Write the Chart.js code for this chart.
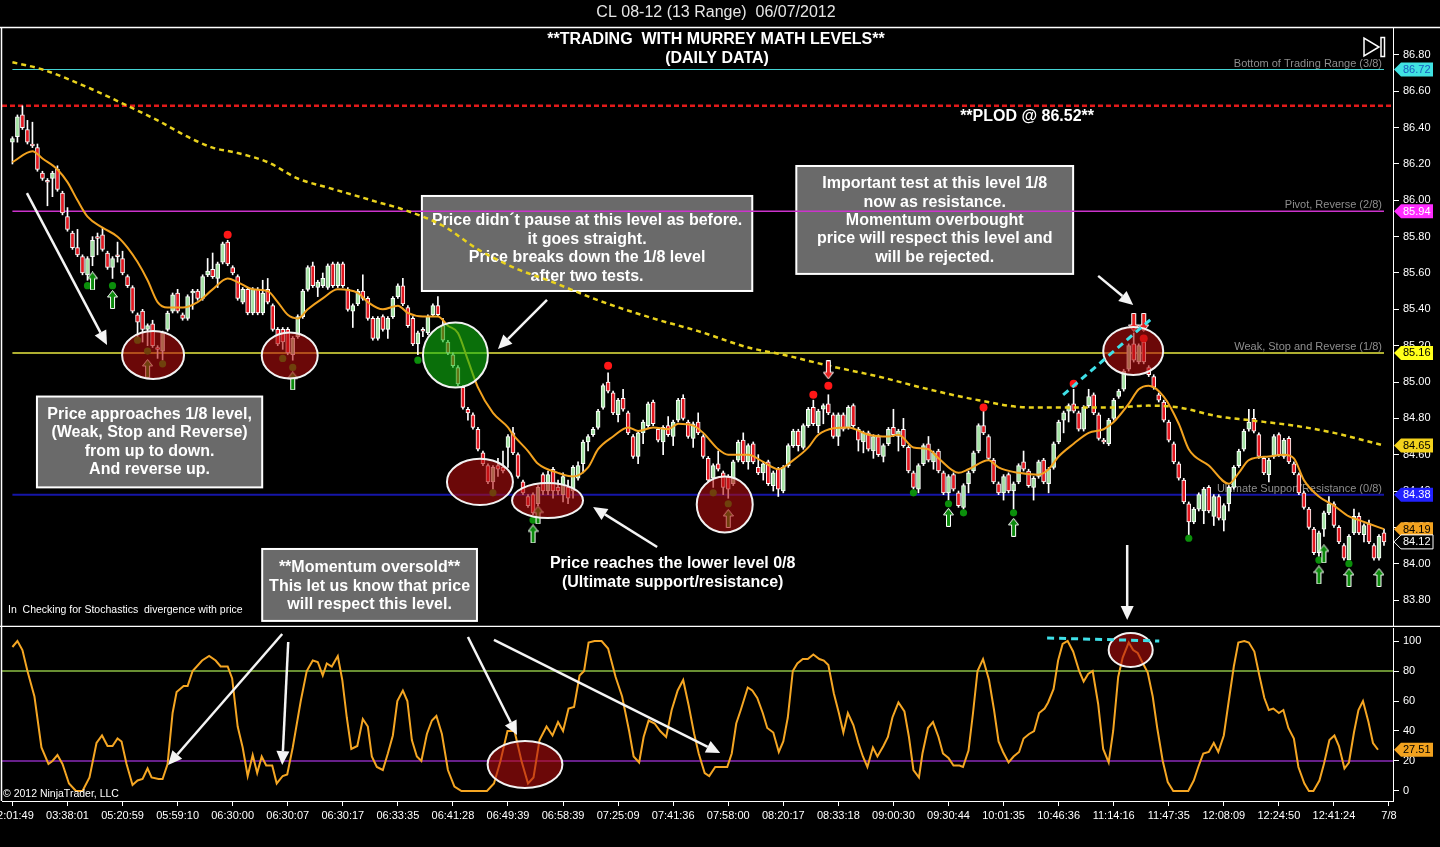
<!DOCTYPE html>
<html>
<head>
<meta charset="utf-8">
<title>CL 08-12 (13 Range) 06/07/2012</title>
<script src="https://cdn.jsdelivr.net/npm/chart.js@4.4.1/dist/chart.umd.min.js"></script>
<style>
  html, body { margin: 0; padding: 0; background: #000; overflow: hidden; }
  #priceBox { position: absolute; left: 0; top: 0; width: 1440px; height: 627px; }
  #stochBox { position: absolute; left: 0; top: 627px; width: 1440px; height: 220px; }
</style>
</head>
<body>
<div id="priceBox"><canvas id="priceChart"></canvas></div>
<div id="stochBox"><canvas id="stochChart"></canvas></div>
<script>
const FONT = 'Arial, "Liberation Sans", sans-serif';

// ---------- data (13 range bars, CL 08-12) ----------
const opens = [
  86.32,86.35,86.47,86.39,86.31,86.29,86.15,86.11,86.12,86.17,
  86.04,85.91,85.82,85.74,85.69,85.59,85.69,85.80,85.81,85.71,
  85.63,85.70,85.68,85.58,85.52,85.37,85.39,85.29,85.32,85.19,
  85.17,85.29,85.39,85.49,85.37,85.35,85.49,85.50,85.46,85.59,
  85.62,85.57,85.66,85.77,85.63,85.58,85.44,85.51,85.38,85.51,
  85.38,85.51,85.42,85.29,85.29,85.29,85.15,85.25,85.36,85.51,
  85.64,85.52,85.53,85.52,85.65,85.53,85.65,85.51,85.39,85.43,
  85.50,85.46,85.35,85.24,85.36,85.29,85.36,85.47,85.53,85.41,
  85.35,85.21,85.29,85.27,85.37,85.42,85.31,85.22,85.15,85.08,
  84.97,84.85,84.82,84.74,84.61,84.54,84.45,84.54,84.53,84.64,
  84.72,84.60,84.45,84.37,84.38,84.33,84.49,84.40,84.52,84.42,
  84.38,84.42,84.40,84.47,84.55,84.67,84.71,84.75,84.86,85.00,
  84.94,84.82,84.91,84.83,84.70,84.59,84.72,84.76,84.89,84.74,
  84.67,84.76,84.70,84.79,84.91,84.78,84.69,84.78,84.70,84.58,
  84.47,84.55,84.50,84.48,84.44,84.57,84.68,84.56,84.66,84.53,
  84.50,84.56,84.43,84.52,84.40,84.54,84.65,84.73,84.64,84.76,
  84.86,84.76,84.85,84.88,84.82,84.70,84.82,84.75,84.87,84.74,
  84.67,84.72,84.62,84.70,84.59,84.66,84.75,84.70,84.74,84.64,
  84.50,84.41,84.55,84.66,84.56,84.62,84.50,84.39,84.49,84.39,
  84.31,84.44,84.51,84.62,84.76,84.70,84.57,84.44,84.39,84.49,
  84.40,84.45,84.56,84.51,84.42,84.48,84.57,84.44,84.53,84.67,
  84.79,84.84,84.88,84.83,84.74,84.87,84.93,84.82,84.68,84.66,
  84.80,84.92,84.96,85.07,85.21,85.11,85.22,85.08,85.03,84.93,
  84.89,84.78,84.66,84.55,84.46,84.33,84.23,84.30,84.29,84.42,
  84.26,84.37,84.24,84.33,84.42,84.54,84.63,84.74,84.80,84.71,
  84.58,84.49,84.59,84.71,84.59,84.69,84.55,84.49,84.39,84.30,
  84.19,84.06,84.19,84.28,84.33,84.20,84.10,84.02,84.17,84.26,
  84.16,84.22,84.10,84.03,84.17
];
const highs = [
  86.35,86.47,86.52,86.44,86.43,86.31,86.16,86.12,86.16,86.19,
  86.05,85.96,85.83,85.84,85.70,85.69,85.80,85.82,85.85,85.72,
  85.69,85.77,85.72,85.59,85.53,85.38,85.40,85.32,85.34,85.20,
  85.28,85.39,85.49,85.51,85.38,85.48,85.51,85.51,85.59,85.68,
  85.71,85.66,85.77,85.78,85.64,85.59,85.52,85.52,85.52,85.52,
  85.56,85.57,85.43,85.30,85.30,85.30,85.25,85.37,85.51,85.64,
  85.66,85.56,85.60,85.65,85.66,85.66,85.66,85.52,85.43,85.51,
  85.59,85.47,85.36,85.36,85.37,85.36,85.47,85.54,85.57,85.42,
  85.36,85.28,85.30,85.37,85.43,85.47,85.35,85.23,85.16,85.09,
  84.98,84.86,84.83,84.75,84.62,84.55,84.54,84.58,84.62,84.71,
  84.75,84.61,84.46,84.38,84.39,84.43,84.50,84.51,84.53,84.46,
  84.50,84.46,84.54,84.56,84.68,84.71,84.75,84.85,84.99,85.05,
  84.95,84.91,84.96,84.84,84.71,84.73,84.79,84.89,84.90,84.75,
  84.76,84.81,84.79,84.91,84.93,84.79,84.78,84.83,84.71,84.59,
  84.55,84.62,84.51,84.49,84.57,84.68,84.72,84.66,84.67,84.60,
  84.56,84.57,84.51,84.53,84.54,84.66,84.74,84.74,84.77,84.86,
  84.90,84.85,84.88,84.93,84.83,84.83,84.83,84.87,84.88,84.75,
  84.73,84.73,84.71,84.71,84.66,84.75,84.85,84.74,84.80,84.65,
  84.51,84.55,84.66,84.70,84.62,84.63,84.51,84.49,84.50,84.40,
  84.44,84.51,84.62,84.77,84.84,84.71,84.58,84.45,84.49,84.50,
  84.45,84.55,84.62,84.52,84.48,84.57,84.58,84.53,84.67,84.79,
  84.84,84.88,84.96,84.84,84.87,84.96,84.94,84.83,84.69,84.80,
  84.91,84.96,85.07,85.21,85.27,85.21,85.23,85.09,85.04,84.94,
  84.90,84.79,84.67,84.56,84.47,84.34,84.31,84.39,84.42,84.43,
  84.38,84.38,84.33,84.43,84.54,84.63,84.74,84.85,84.85,84.72,
  84.59,84.58,84.71,84.72,84.69,84.70,84.56,84.50,84.40,84.31,
  84.20,84.18,84.29,84.37,84.34,84.21,84.11,84.16,84.30,84.28,
  84.22,84.24,84.11,84.16,84.19
];
const lows = [
  86.20,86.32,86.39,86.31,86.29,86.16,86.11,85.97,86.02,86.05,
  85.92,85.83,85.73,85.69,85.59,85.56,85.64,85.70,85.72,85.62,
  85.57,85.66,85.59,85.52,85.38,85.24,85.22,85.20,85.19,85.13,
  85.12,85.28,85.38,85.38,85.34,85.34,85.40,85.45,85.45,85.58,
  85.57,85.52,85.65,85.64,85.59,85.45,85.43,85.37,85.37,85.37,
  85.37,85.43,85.28,85.20,85.18,85.15,85.12,85.24,85.35,85.50,
  85.52,85.47,85.52,85.51,85.52,85.52,85.52,85.39,85.30,85.42,
  85.45,85.34,85.23,85.23,85.28,85.24,85.35,85.46,85.42,85.30,
  85.20,85.15,85.25,85.26,85.36,85.36,85.22,85.15,85.08,84.98,
  84.85,84.79,84.74,84.62,84.54,84.44,84.41,84.48,84.50,84.53,
  84.60,84.47,84.38,84.31,84.27,84.32,84.38,84.38,84.36,84.38,
  84.34,84.33,84.36,84.46,84.50,84.62,84.70,84.74,84.85,84.94,
  84.82,84.78,84.84,84.71,84.58,84.55,84.66,84.75,84.76,84.67,
  84.60,84.70,84.65,84.78,84.79,84.69,84.64,84.71,84.58,84.45,
  84.42,84.51,84.38,84.36,84.43,84.56,84.55,84.52,84.55,84.49,
  84.46,84.43,84.40,84.37,84.39,84.53,84.64,84.62,84.63,84.75,
  84.76,84.72,84.77,84.82,84.69,84.65,84.73,84.74,84.75,84.62,
  84.61,84.62,84.58,84.59,84.56,84.65,84.70,84.62,84.64,84.50,
  84.41,84.39,84.54,84.56,84.52,84.50,84.38,84.35,84.40,84.31,
  84.30,84.39,84.50,84.61,84.71,84.57,84.44,84.38,84.35,84.39,
  84.30,84.44,84.51,84.42,84.35,84.47,84.44,84.39,84.52,84.66,
  84.72,84.78,84.83,84.73,84.73,84.86,84.82,84.68,84.66,84.65,
  84.79,84.91,84.95,85.06,85.11,85.10,85.10,85.03,84.96,84.89,
  84.78,84.67,84.55,84.46,84.33,84.16,84.22,84.29,84.22,84.28,
  84.21,84.24,84.18,84.29,84.41,84.53,84.62,84.73,84.72,84.58,
  84.49,84.45,84.58,84.59,84.58,84.55,84.49,84.38,84.30,84.19,
  84.05,84.04,84.15,84.27,84.20,84.11,84.02,84.01,84.16,84.16,
  84.12,84.11,84.02,84.02,84.10
];
const closes = [
  86.34,86.46,86.40,86.32,86.30,86.17,86.12,86.10,86.15,86.06,
  85.93,85.84,85.74,85.70,85.60,85.68,85.78,85.79,85.73,85.63,
  85.68,85.69,85.60,85.53,85.39,85.33,85.29,85.31,85.20,85.18,
  85.27,85.38,85.48,85.39,85.35,85.47,85.50,85.46,85.58,85.61,
  85.58,85.65,85.76,85.65,85.60,85.46,85.51,85.38,85.51,85.38,
  85.49,85.44,85.29,85.21,85.22,85.16,85.24,85.36,85.50,85.63,
  85.53,85.55,85.57,85.64,85.53,85.65,85.53,85.40,85.42,85.50,
  85.46,85.35,85.24,85.35,85.29,85.35,85.46,85.53,85.43,85.31,
  85.21,85.27,85.28,85.36,85.42,85.37,85.23,85.16,85.09,84.99,
  84.86,84.83,84.75,84.63,84.55,84.45,84.53,84.52,84.51,84.70,
  84.61,84.48,84.39,84.32,84.28,84.42,84.40,84.49,84.40,84.40,
  84.48,84.36,84.53,84.54,84.67,84.70,84.74,84.84,84.98,84.95,
  84.83,84.90,84.85,84.72,84.59,84.72,84.78,84.88,84.77,84.68,
  84.75,84.71,84.78,84.90,84.80,84.70,84.77,84.72,84.59,84.46,
  84.54,84.52,84.42,84.41,84.56,84.67,84.56,84.65,84.56,84.50,
  84.55,84.44,84.50,84.41,84.53,84.65,84.73,84.65,84.76,84.85,
  84.77,84.84,84.87,84.83,84.70,84.82,84.74,84.86,84.76,84.68,
  84.72,84.63,84.70,84.60,84.65,84.74,84.71,84.73,84.65,84.51,
  84.42,84.54,84.65,84.57,84.61,84.51,84.39,84.48,84.41,84.32,
  84.43,84.50,84.61,84.76,84.72,84.58,84.45,84.39,84.48,84.40,
  84.44,84.54,84.52,84.43,84.47,84.56,84.45,84.52,84.66,84.78,
  84.83,84.87,84.84,84.74,84.86,84.92,84.83,84.69,84.67,84.79,
  84.90,84.95,85.06,85.20,85.12,85.20,85.11,85.04,84.97,84.90,
  84.79,84.68,84.56,84.47,84.34,84.23,84.30,84.38,84.41,84.29,
  84.37,84.25,84.32,84.42,84.53,84.62,84.73,84.78,84.73,84.59,
  84.50,84.57,84.70,84.60,84.68,84.56,84.50,84.39,84.31,84.20,
  84.06,84.17,84.28,84.33,84.21,84.12,84.03,84.15,84.26,84.17,
  84.21,84.12,84.03,84.15,84.12
];

// [bar, value] readings of the indicator lines
const emaPoints = [
  [0,86.21],[4,86.27],[6,86.23],[9,86.17],[11,86.10],[13,86.00],[15,85.91],[18,85.85],[21,85.80],[23,85.74],
  [25,85.66],[27,85.56],[29,85.44],[31,85.41],[34,85.41],[37,85.44],[40,85.51],[43,85.57],[45,85.55],[48,85.51],
  [51,85.50],[53,85.44],[55,85.37],[57,85.35],[59,85.40],[62,85.46],[65,85.51],[69,85.49],[71,85.44],[74,85.40],
  [77,85.42],[79,85.38],[82,85.36],[85,85.36],[87,85.31],[89,85.27],[91,85.12],[93,84.97],[96,84.83],[99,84.75],
  [100,84.71],[103,84.62],[105,84.55],[109,84.50],[112,84.48],[115,84.53],[117,84.63],[120,84.70],[123,84.75],[125,84.73],
  [128,84.75],[131,84.74],[133,84.77],[136,84.76],[138,84.72],[141,84.63],[143,84.60],[147,84.60],[150,84.56],[153,84.52],
  [156,84.57],[159,84.64],[161,84.71],[167,84.75],[171,84.71],[175,84.70],[177,84.71],[180,84.64],[183,84.63],[185,84.58],
  [189,84.50],[191,84.52],[195,84.57],[197,84.53],[201,84.50],[205,84.49],[207,84.52],[209,84.59],[212,84.66],[215,84.72],
  [218,84.74],[220,84.78],[223,84.88],[225,84.96],[227,84.98],[230,84.92],[233,84.77],[235,84.63],[239,84.54],[243,84.44],
  [245,84.50],[247,84.57],[251,84.59],[254,84.60],[256,84.58],[258,84.46],[261,84.37],[264,84.32],[267,84.26],[269,84.24],
  [273,84.20],[274,84.19]
];
const smaPoints = [
  [0,86.76],[6,86.72],[16,86.61],[23,86.52],[29,86.44],[35,86.35],[40,86.29],[45,86.26],[51,86.21],[57,86.12],
  [63,86.07],[68,86.03],[73,85.99],[78,85.95],[86,85.86],[93,85.73],[101,85.62],[107,85.56],[117,85.45],[128,85.35],
  [137,85.28],[147,85.19],[154,85.15],[163,85.09],[173,85.03],[183,84.96],[193,84.90],[203,84.86],[210,84.86],[220,84.86],
  [227,84.87],[233,84.86],[241,84.81],[247,84.79],[256,84.76],[264,84.72],[274,84.65]
];
const stochPoints = [
  [0,96],[1,100],[2,94],[3,80],[4.4,63],[5.8,29],[7.2,18],[8,20],[9,24],[10,18],
  [11.3,5],[12.7,0],[14,0],[15.4,9],[16.8,32],[17.9,37],[19,30],[20,30],[21,35],[21.8,33],
  [22.8,18],[24,4],[25,7],[26,8],[27,15],[27.8,9],[29.2,8],[30,8],[31,18],[32,52],
  [32.8,66],[34.2,70],[35,70],[36,80],[37.9,87],[39.3,90],[40.6,87],[41.6,83],[43,83],[43.9,75],
  [45,43],[46,29],[47,10],[48,24],[48.9,12],[49.8,23],[50.7,17],[51.9,17],[52.8,5],[54,10],
  [54.9,11],[56,29],[57.6,60],[58.8,80],[60,87],[61,86],[62,77],[62.8,85],[63.8,83],[65,90],
  [65.9,74],[66.8,49],[67.7,28],[68.9,30],[70,48],[71,43],[71.8,23],[72.8,16],[74,14],[75,25],
  [76,37],[76.9,60],[78,67],[78.9,60],[79.8,34],[80.8,23],[81.7,20],[82.8,38],[83.8,47],[84.7,50],
  [85.8,38],[87,14],[88.3,3],[89.7,0],[94.8,0],[96.2,5],[97.5,20],[98.9,40],[100.3,40],[101.7,20],
  [103,5],[104.1,9],[105.3,34],[106.7,43],[107.9,37],[109,46],[110,40],[111.1,55],[112.2,56],[113.3,77],
  [114.2,80],[115.1,99],[116.3,100],[117.7,100],[119,95],[120.5,76],[121.8,63],[123.2,40],[124.1,23],[125.2,19],
  [126.1,36],[127.1,47],[128.3,45],[129.4,40],[130.6,36],[131.7,54],[132.9,67],[134,74],[135.1,57],[136.2,38],
  [137.1,25],[138.3,12],[139.2,10],[140.4,16],[141.4,16],[142.8,16],[143.7,25],[144.6,45],[145.5,54],[146.9,69],
  [147.8,67],[148.8,62],[149.9,52],[150.8,42],[152,39],[153.1,26],[154,33],[154.9,49],[155.9,80],[156.8,85],
  [157.9,88],[158.9,88],[160,91],[161.2,88],[162.1,87],[163,84],[164.1,65],[165.1,52],[166,39],[166.9,52],
  [168,44],[169,32],[169.9,23],[170.8,16],[171.9,29],[172.8,23],[174,30],[174.9,36],[175.8,49],[177,59],
  [178.2,53],[179.1,36],[180,14],[181.1,9],[181.8,25],[182.9,42],[183.9,46],[185,36],[185.9,25],[187,22],
  [188,17],[189.2,17],[189.9,16],[191,27],[191.9,52],[192.8,80],[193.9,88],[195.1,74],[196.1,54],[197,33],
  [197.9,26],[199,19],[200,23],[201.1,26],[202,35],[203.1,38],[204.1,40],[205.1,52],[206.2,55],[206.9,59],
  [208,68],[208.9,87],[209.8,98],[210.8,100],[211.9,93],[213.1,80],[214,73],[214.9,78],[215.8,80],[216.9,58],
  [217.9,28],[219,19],[219.9,40],[220.9,76],[221.8,89],[223,99],[223.9,94],[224.8,92],[225.7,86],[226.8,79],
  [227.8,63],[228.7,42],[229.8,20],[230.8,6],[231.9,0],[234.9,0],[236,7],[236.9,16],[237.9,25],[239,26],
  [240,32],[240.9,26],[242,37],[242.9,58],[244,83],[244.9,99],[246.1,100],[247,99],[248.1,93],[249.1,77],
  [250.1,62],[251,54],[251.9,55],[253,52],[253.9,54],[254.9,42],[256,35],[256.9,16],[258.1,5],[259,0],
  [259.9,0],[261.1,7],[262,18],[263.1,34],[264.1,37],[265,30],[266.1,15],[267,19],[268,39],[268.9,54],
  [269.8,60],[270.9,46],[271.8,32],[272.8,27.51]
];

// signal markers
const greenDotBars   = [15,20,25,27,30,54,56,81,96,104,140,143,180,187,190,200,235,261,267];
const greenDotPrices = [85.53,85.53,85.23,85.17,85.10,85.13,85.08,85.12,84.39,84.24,84.39,84.33,84.39,84.33,84.28,84.28,84.14,84.02,84.00];
const redDotBars     = [43,119,160,163,194,212,226];
const redDotPrices   = [85.81,85.09,84.93,84.98,84.86,84.99,85.24];
const upArrowBars    = [16,20,27,56,104,105,143,187,200,261,262,267,273];
const upArrowPrices  = [85.556,85.454,85.075,85.006,84.164,84.268,84.249,84.255,84.20,83.938,84.054,83.924,83.924];
const downArrowBars  = [163,224,226];
const downArrowPrices= [85.067,85.328,85.328];

// Murrey math levels
const levelValues = [86.72, 85.94, 85.16, 84.38];
const levelNames  = ['Bottom of Trading Range (3/8)', 'Pivot, Reverse (2/8)', 'Weak, Stop and Reverse (1/8)', 'Ultimate Support/Resistance (0/8)'];
const plodValue = 86.52;
const stochLevels = [80, 20];

// axes
const yTicks = [83.8, 84.0, 84.2, 84.4, 84.6, 84.8, 85.0, 85.2, 85.4, 85.6, 85.8, 86.0, 86.2, 86.4, 86.6, 86.8];
const stochTicks = [0, 20, 40, 60, 80, 100];
const xTickBars = [0,11,22,33,44,55,66,77,88,99,110,121,132,143,154,165,176,187,198,209,220,231,242,253,264,275];
const xLabels = ['02:01:49','03:38:01','05:20:59','05:59:10','06:30:00','06:30:07','06:30:17','06:33:35','06:41:28',
  '06:49:39','06:58:39','07:25:09','07:41:36','07:58:00','08:20:17','08:33:18','09:00:30','09:30:44','10:01:35',
  '10:46:36','11:14:16','11:47:35','12:08:09','12:24:50','12:41:24','7/8'];

// ---------- styles ----------
const UP = '#a4e3a4', DOWN = '#e3161f';
const EMA_COLOR = '#f2a21f', SMA_COLOR = '#e9d21d';
const levelStyles = [
  { color: '#45d3d3', width: 1.2, tagBg: '#40e2e2', tagFg: '#1a5fc0' },
  { color: '#cc33cc', width: 1.4, tagBg: '#ff2cff', tagFg: '#ffffff' },
  { color: '#e8e840', width: 1.4, tagBg: '#ffff1a', tagFg: '#000000' },
  { color: '#1515a8', width: 2, tagBg: '#2222ff', tagFg: '#ffffff' }
];
const stochLevelColors = ['#8cbf45', '#8a2bb8'];
const RED_ELL = 'rgba(178,14,14,0.6)', GREEN_ELL = 'rgba(16,185,16,0.6)';

// annotation layout, in data units (bar index, price / stoch value)
const noteBoxes = [
  { x0: 4.9, x1: 49.9, y0: 84.92, y1: 84.42, first: 18, gap: 18.4,
    lines: ['Price approaches 1/8 level,', '(Weak, Stop and Reverse)', 'from up to down.', 'And reverse up.'] },
  { x0: 49.9, x1: 92.8, y0: 84.081, y1: 83.685, first: 19, gap: 18.5,
    lines: ['**Momentum oversold**', 'This let us know that price', 'will respect this level.'] },
  { x0: 81.8, x1: 147.8, y0: 86.024, y1: 85.501, first: 25, gap: 18.4,
    lines: ['Price didn\u00b4t pause at this level as before.', 'it goes straight.', 'Price breaks down the 1/8 level', 'after two tests.'] },
  { x0: 156.6, x1: 211.9, y0: 86.189, y1: 85.595, first: 18, gap: 18.3,
    lines: ['Important test at this level 1/8', 'now as resistance.', 'Momentum overbought', 'price will respect this level and', 'will be rejected.'] }
];
const priceEllipses = [
  { b: 28.1, p: 85.149, rb: 6.19, rp: 0.132, fill: RED_ELL },
  { b: 55.4, p: 85.146, rb: 5.59, rp: 0.127, fill: RED_ELL },
  { b: 88.5, p: 85.149, rb: 6.49, rp: 0.179, fill: GREEN_ELL },
  { b: 93.4, p: 84.450, rb: 6.59, rp: 0.127, fill: RED_ELL },
  { b: 106.9, p: 84.348, rb: 7.09, rp: 0.096, fill: RED_ELL },
  { b: 142.3, p: 84.326, rb: 5.59, rp: 0.154, fill: RED_ELL },
  { b: 223.9, p: 85.171, rb: 5.99, rp: 0.132, fill: RED_ELL }
];
const stochEllipses = [
  { b: 102.4, p: 17.7, rb: 7.47, rp: 15.7, fill: RED_ELL },
  { b: 223.4, p: 94, rb: 4.40, rp: 11.3, fill: RED_ELL }
];
const priceArrows = [
  [2.9, 86.040, 18.9, 85.204], [106.8, 85.452, 97.0, 85.182], [128.8, 84.092, 116.0, 84.312],
  [216.9, 85.584, 223.9, 85.424], [222.7, 84.103, 222.7, 83.690]
];
const stochArrows = [
  [53.9, 104.7, 31.1, 17.3], [55.1, 99.3, 53.9, 17.3], [91.0, 102.7, 100.8, 37.3], [96.2, 100.7, 141.4, 25.3]
];
const priceCyan = [209.9, 84.929, 227.5, 85.347];
const stochCyan = [206.7, 102, 229.1, 100];
const priceTexts = [
  { b: 202.7, p: 86.459, text: '**PLOD @ ' + plodValue.toFixed(2) + '**' },
  { b: 131.9, p: 83.999, text: 'Price reaches the lower level 0/8' },
  { b: 131.9, p: 83.894, text: '(Ultimate support/resistance)' }
];

// ---------- helpers ----------
function arrowImage(fill, down) {
  const c = document.createElement('canvas');
  c.width = 11; c.height = 19;
  const g = c.getContext('2d');
  const pts = [[5.5,0.5],[10.5,7],[7.5,7],[7.5,18.5],[3.5,18.5],[3.5,7],[0.5,7]];
  g.beginPath();
  pts.forEach(([px, py], i) => {
    const yy = down ? 19 - py : py;
    if (i) g.lineTo(px, yy); else g.moveTo(px, yy);
  });
  g.closePath();
  g.fillStyle = fill; g.fill();
  g.strokeStyle = '#ffffff'; g.lineWidth = 1; g.stroke();
  return c;
}
function arrowLine(ctx, x1, y1, x2, y2) {
  const a = Math.atan2(y2 - y1, x2 - x1), head = 14, half = 6.5;
  const hx = x2 - Math.cos(a) * head, hy = y2 - Math.sin(a) * head;
  ctx.save();
  ctx.strokeStyle = '#f4f4f4'; ctx.fillStyle = '#f4f4f4'; ctx.lineWidth = 2.5;
  ctx.beginPath(); ctx.moveTo(x1, y1); ctx.lineTo(hx, hy); ctx.stroke();
  ctx.beginPath(); ctx.moveTo(x2, y2);
  ctx.lineTo(hx + Math.sin(a) * half, hy - Math.cos(a) * half);
  ctx.lineTo(hx - Math.sin(a) * half, hy + Math.cos(a) * half);
  ctx.closePath(); ctx.fill();
  ctx.restore();
}
function ellipse(ctx, x, y, e) {
  const cx = x.getPixelForValue(e.b), cy = y.getPixelForValue(e.p);
  const rx = Math.abs(x.getPixelForValue(e.b + e.rb) - cx);
  const ry = Math.abs(y.getPixelForValue(e.p + e.rp) - cy);
  ctx.beginPath(); ctx.ellipse(cx, cy, rx, ry, 0, 0, Math.PI * 2);
  ctx.fillStyle = e.fill; ctx.fill();
  ctx.lineWidth = 2; ctx.strokeStyle = '#f2f2f2'; ctx.stroke();
}
function cyanDash(ctx, x, y, s) {
  ctx.save();
  ctx.strokeStyle = '#3fe0e8'; ctx.lineWidth = 3; ctx.setLineDash([7, 5]);
  ctx.beginPath();
  ctx.moveTo(x.getPixelForValue(s[0]), y.getPixelForValue(s[1]));
  ctx.lineTo(x.getPixelForValue(s[2]), y.getPixelForValue(s[3]));
  ctx.stroke(); ctx.restore();
}
function tag(ctx, x, y, text, bg, fg, outline) {
  ctx.save();
  ctx.beginPath();
  ctx.moveTo(x, y); ctx.lineTo(x + 7, y - 7); ctx.lineTo(x + 39, y - 7);
  ctx.lineTo(x + 39, y + 7); ctx.lineTo(x + 7, y + 7); ctx.closePath();
  ctx.fillStyle = bg; ctx.fill();
  if (outline) { ctx.strokeStyle = outline; ctx.lineWidth = 1; ctx.stroke(); }
  ctx.fillStyle = fg; ctx.font = '11px ' + FONT;
  ctx.textAlign = 'left'; ctx.textBaseline = 'middle';
  ctx.fillText(text, x + 9, y + 0.5);
  ctx.restore();
}
// keep the plot areas of both panels exactly where the picture has them
function fixWidth(s) { s.width = 47; s.paddingTop = 0; s.paddingBottom = 0; }
function fixHeight(s) { s.height = 46; s.paddingLeft = 0; s.paddingRight = 0; }

// ---------- price panel overlay ----------
const priceOverlay = {
  id: 'priceOverlay',
  beforeDatasetsDraw(chart) {
    const { ctx, chartArea: a, scales: { x, y } } = chart;
    ctx.save();
    // note boxes (lines and candles run over them)
    noteBoxes.forEach(bx => {
      const l = x.getPixelForValue(bx.x0), r = x.getPixelForValue(bx.x1);
      const t = y.getPixelForValue(bx.y0), b = y.getPixelForValue(bx.y1);
      ctx.fillStyle = '#6a6a6a'; ctx.fillRect(l, t, r - l, b - t);
      ctx.strokeStyle = '#ffffff'; ctx.lineWidth = 2; ctx.strokeRect(l, t, r - l, b - t);
      ctx.fillStyle = '#ffffff'; ctx.font = 'bold 16px ' + FONT;
      ctx.textAlign = 'center'; ctx.textBaseline = 'middle';
      bx.lines.forEach((s, i) => ctx.fillText(s, (l + r) / 2, t + bx.first + i * bx.gap));
    });
    // Murrey levels
    const lx0 = x.getPixelForValue(0), lx1 = x.getPixelForValue(opens.length - 1);
    levelValues.forEach((v, i) => {
      const st = levelStyles[i], py = y.getPixelForValue(v);
      ctx.strokeStyle = st.color; ctx.lineWidth = st.width;
      ctx.beginPath(); ctx.moveTo(lx0, py); ctx.lineTo(lx1, py); ctx.stroke();
      ctx.fillStyle = '#8e8e8e'; ctx.font = '11px ' + FONT;
      ctx.textAlign = 'right'; ctx.textBaseline = 'alphabetic';
      ctx.fillText(levelNames[i], lx1 - 2, py - 3);
    });
    // PLOD
    const pp = y.getPixelForValue(plodValue);
    ctx.strokeStyle = '#e21a1a'; ctx.lineWidth = 2.5; ctx.setLineDash([5, 3]);
    ctx.beginPath(); ctx.moveTo(a.left, pp); ctx.lineTo(a.right, pp); ctx.stroke();
    ctx.setLineDash([]);
    ctx.restore();
  },
  afterDraw(chart) {
    const { ctx, chartArea: a, scales: { x, y } } = chart;
    ctx.save();
    priceEllipses.forEach(e => ellipse(ctx, x, y, e));
    cyanDash(ctx, x, y, priceCyan);
    priceArrows.forEach(s => arrowLine(ctx, x.getPixelForValue(s[0]), y.getPixelForValue(s[1]),
      x.getPixelForValue(s[2]), y.getPixelForValue(s[3])));
    // texts
    ctx.fillStyle = '#ffffff'; ctx.textAlign = 'center'; ctx.textBaseline = 'middle';
    ctx.font = 'bold 16px ' + FONT;
    priceTexts.forEach(t => ctx.fillText(t.text, x.getPixelForValue(t.b), y.getPixelForValue(t.p)));
    ctx.fillText('**TRADING  WITH MURREY MATH LEVELS**', 716, 40);
    ctx.fillText('(DAILY DATA)', 717, 59);
    ctx.font = '16px ' + FONT; ctx.fillStyle = '#e6e6e6';
    ctx.fillText('CL 08-12 (13 Range)  06/07/2012', 716, 13);
    ctx.font = '10.5px ' + FONT; ctx.fillStyle = '#ffffff'; ctx.textAlign = 'left';
    ctx.fillText('In  Checking for Stochastics  divergence with price', a.left + 6, a.bottom - 16);
    // frame
    ctx.strokeStyle = '#ffffff'; ctx.lineWidth = 1.5;
    ctx.beginPath();
    ctx.moveTo(0, a.top + 0.5); ctx.lineTo(chart.width, a.top + 0.5);
    ctx.moveTo(0, a.bottom + 0.5); ctx.lineTo(chart.width, a.bottom + 0.5);
    ctx.moveTo(1.5, a.top); ctx.lineTo(1.5, a.bottom);
    ctx.stroke();
    // "go to end" icon
    ctx.lineWidth = 1.5;
    ctx.beginPath();
    ctx.moveTo(a.right - 29, 38); ctx.lineTo(a.right - 29, 56); ctx.lineTo(a.right - 14, 47); ctx.closePath();
    ctx.stroke();
    ctx.strokeRect(a.right - 12, 37.5, 3.5, 19);
    // right axis tags
    const tx = a.right + 1;
    levelValues.forEach((v, i) => tag(ctx, tx, y.getPixelForValue(v), v.toFixed(2), levelStyles[i].tagBg, levelStyles[i].tagFg));
    const smaLast = smaPoints[smaPoints.length - 1][1], emaLast = emaPoints[emaPoints.length - 1][1];
    const lastClose = closes[closes.length - 1];
    tag(ctx, tx, y.getPixelForValue(smaLast), smaLast.toFixed(2), '#f3d21c', '#000000');
    tag(ctx, tx, y.getPixelForValue(emaLast), emaLast.toFixed(2), EMA_COLOR, '#000000');
    tag(ctx, tx, y.getPixelForValue(lastClose), lastClose.toFixed(2), '#000000', '#ffffff', '#ffffff');
    ctx.restore();
  }
};

// ---------- stochastics panel overlay ----------
const stochOverlay = {
  id: 'stochOverlay',
  beforeDatasetsDraw(chart) {
    const { ctx, chartArea: a, scales: { y } } = chart;
    ctx.save();
    stochLevels.forEach((v, i) => {
      const py = y.getPixelForValue(v);
      ctx.strokeStyle = stochLevelColors[i]; ctx.lineWidth = i ? 1.6 : 1.3;
      ctx.beginPath(); ctx.moveTo(a.left, py); ctx.lineTo(a.right, py); ctx.stroke();
    });
    ctx.restore();
  },
  afterDraw(chart) {
    const { ctx, chartArea: a, scales: { x, y } } = chart;
    ctx.save();
    stochEllipses.forEach(e => ellipse(ctx, x, y, e));
    cyanDash(ctx, x, y, stochCyan);
    stochArrows.forEach(s => arrowLine(ctx, x.getPixelForValue(s[0]), y.getPixelForValue(s[1]),
      x.getPixelForValue(s[2]), y.getPixelForValue(s[3])));
    ctx.fillStyle = '#ffffff'; ctx.font = '10.5px ' + FONT;
    ctx.textAlign = 'left'; ctx.textBaseline = 'middle';
    ctx.fillText('\u00a9 2012 NinjaTrader, LLC', 3, a.bottom - 7);
    ctx.strokeStyle = '#ffffff'; ctx.lineWidth = 1.5;
    ctx.beginPath(); ctx.moveTo(1.5, 0); ctx.lineTo(1.5, a.bottom); ctx.stroke();
    const last = stochPoints[stochPoints.length - 1][1];
    tag(ctx, a.right + 1, y.getPixelForValue(last), last.toFixed(2), EMA_COLOR, '#000000');
    ctx.restore();
  }
};

// ---------- charts ----------
const idx = opens.map((_, i) => i);
const upImg = arrowImage('#0c8a0c', false);
const downImg = arrowImage('#e82020', true);
const X_MIN = -2.08, X_MAX = 275.8;

new Chart(document.getElementById('priceChart'), {
  type: 'bar',
  data: {
    datasets: [
      { type: 'line', order: 0, showLine: false, pointStyle: downImg, pointRadius: 5,
        data: downArrowBars.map((b, i) => ({ x: b, y: downArrowPrices[i] })) },
      { type: 'line', order: 0, showLine: false, pointStyle: upImg, pointRadius: 5,
        data: upArrowBars.map((b, i) => ({ x: b, y: upArrowPrices[i] })) },
      { type: 'line', order: 1, showLine: false, pointRadius: 3.6, pointBorderWidth: 0,
        pointBackgroundColor: '#0b8f0b', data: greenDotBars.map((b, i) => ({ x: b, y: greenDotPrices[i] })) },
      { type: 'line', order: 1, showLine: false, pointRadius: 4, pointBorderWidth: 0,
        pointBackgroundColor: '#ff1717', data: redDotBars.map((b, i) => ({ x: b, y: redDotPrices[i] })) },
      { type: 'line', order: 2, borderColor: EMA_COLOR, borderWidth: 2, pointRadius: 0,
        cubicInterpolationMode: 'monotone', data: emaPoints.map(p => ({ x: p[0], y: p[1] })) },
      { type: 'line', order: 3, borderColor: SMA_COLOR, borderWidth: 2.5, borderDash: [5, 4], pointRadius: 0,
        cubicInterpolationMode: 'monotone', data: smaPoints.map(p => ({ x: p[0], y: p[1] })) },
      { order: 4, grouped: false, barThickness: 4, borderWidth: 1, borderColor: '#ffffff', borderSkipped: false,
        backgroundColor: idx.map(i => closes[i] >= opens[i] ? UP : DOWN),
        data: idx.map(i => ({ x: i, y: [opens[i], closes[i]] })) },
      { order: 5, grouped: false, barThickness: 1, backgroundColor: '#ffffff',
        data: idx.map(i => ({ x: i, y: [lows[i], highs[i]] })) }
    ]
  },
  options: {
    responsive: true, maintainAspectRatio: false, animation: false, devicePixelRatio: 1,
    layout: { padding: { top: 27, left: 2, right: 0, bottom: 1 }, autoPadding: false },
    plugins: { legend: { display: false }, tooltip: { enabled: false } },
    scales: {
      x: { type: 'linear', min: X_MIN, max: X_MAX, offset: false, display: false, grid: { offset: false } },
      y: {
        position: 'right', min: 83.657, max: 86.954,
        afterFit: fixWidth,
        afterBuildTicks(s) { s.ticks = yTicks.map(v => ({ value: v })); },
        ticks: { color: '#ffffff', font: { family: FONT, size: 11 }, padding: 4, callback: v => v.toFixed(2) },
        grid: { drawOnChartArea: false, color: '#ffffff', tickLength: 6 },
        border: { color: '#ffffff' }
      }
    }
  },
  plugins: [priceOverlay]
});

new Chart(document.getElementById('stochChart'), {
  type: 'line',
  data: {
    datasets: [
      { borderColor: '#f5a623', borderWidth: 2, pointRadius: 0, tension: 0,
        data: stochPoints.map(p => ({ x: p[0], y: p[1] })) }
    ]
  },
  options: {
    responsive: true, maintainAspectRatio: false, animation: false, devicePixelRatio: 1,
    layout: { padding: { top: 1, left: 2, right: 0, bottom: 0 }, autoPadding: false },
    plugins: { legend: { display: false }, tooltip: { enabled: false } },
    scales: {
      x: {
        type: 'linear', min: X_MIN, max: X_MAX, offset: false,
        afterFit: fixHeight,
        afterBuildTicks(s) { s.ticks = xTickBars.map(v => ({ value: v })); },
        ticks: { color: '#ffffff', font: { family: FONT, size: 11 }, autoSkip: false, maxRotation: 0, padding: 3,
          callback: (v, i) => xLabels[i] },
        grid: { drawOnChartArea: false, color: '#ffffff', tickLength: 5 },
        border: { color: '#ffffff' }
      },
      y: {
        position: 'right', min: -6.67, max: 108.67,
        afterFit: fixWidth,
        afterBuildTicks(s) { s.ticks = stochTicks.map(v => ({ value: v })); },
        ticks: { color: '#ffffff', font: { family: FONT, size: 11 }, padding: 4, callback: v => String(v) },
        grid: { drawOnChartArea: false, color: '#ffffff', tickLength: 6 },
        border: { color: '#ffffff' }
      }
    }
  },
  plugins: [stochOverlay]
});
</script>
</body>
</html>
